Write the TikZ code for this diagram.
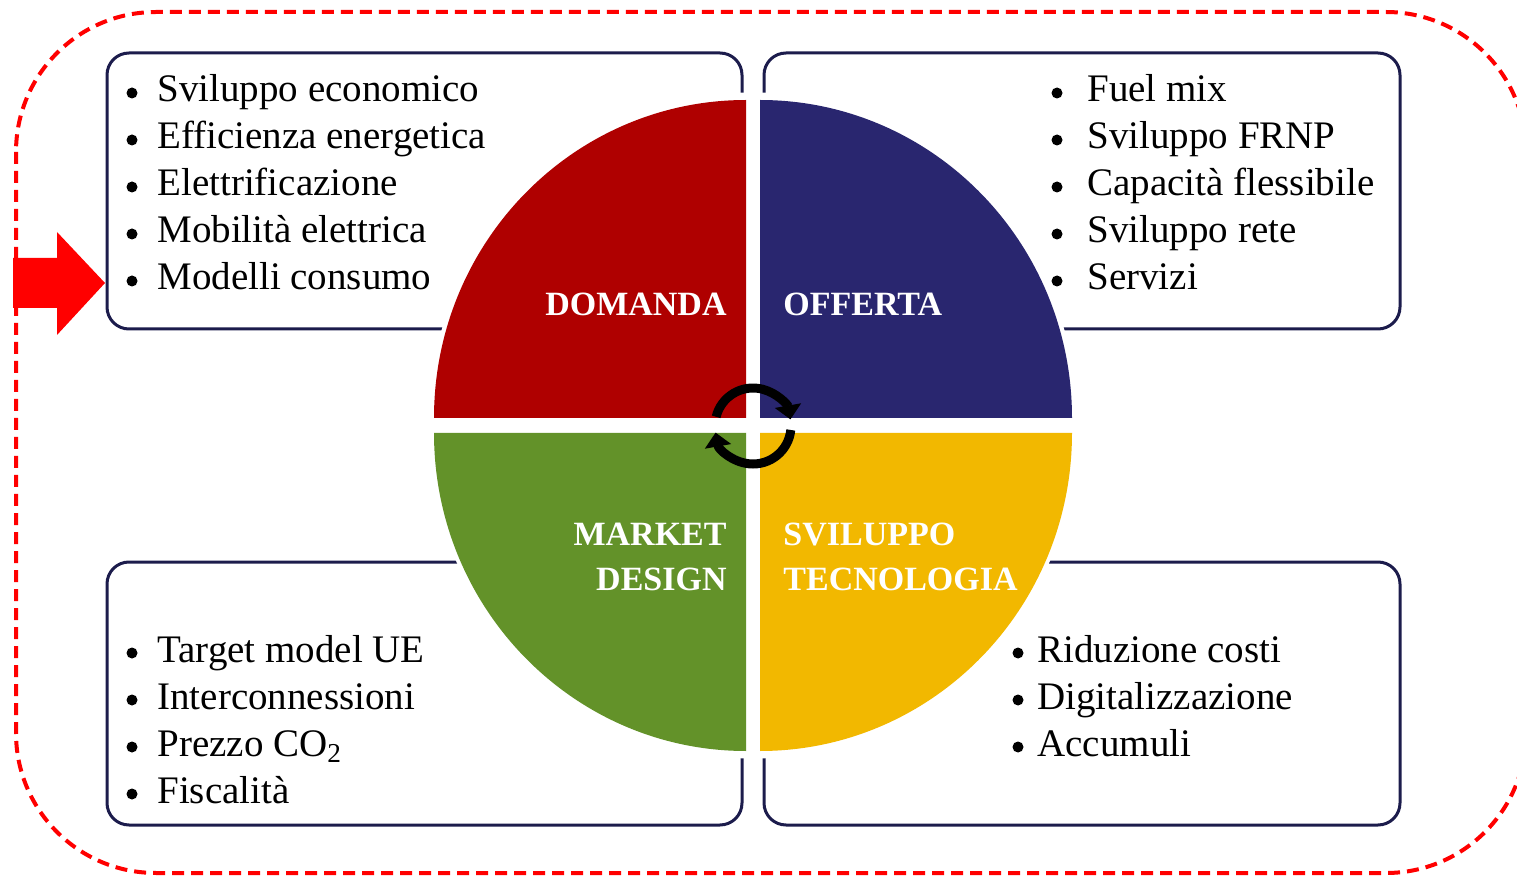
\documentclass[tikz,border=0pt]{standalone}
\usepackage{fontspec}
\setmainfont{Liberation Serif}
\usetikzlibrary{arrows.meta}
\definecolor{qred}{HTML}{AF0000}
\definecolor{qblue}{HTML}{29266F}
\definecolor{qgreen}{HTML}{639229}
\definecolor{qyellow}{HTML}{F2B800}
\definecolor{qnavy}{HTML}{1C1C4C}
\definecolor{qframe}{HTML}{FF0000}

\begin{document}
\begin{tikzpicture}[x=0.5pt,y=-0.5pt,
  listbox/.style={draw=qnavy,line width=1.5pt,rounded corners=11pt},
  item/.style={anchor=base west,inner sep=0pt,font=\fontsize{19.5}{22}\selectfont},
  quadlabel/.style={text=white,inner sep=0pt,font=\fontsize{17}{22.5}\selectfont\bfseries},
  turnarrow/.style={line width=4.5pt,-{Triangle[width=13pt,length=7pt]}}]
\useasboundingbox (0,0) rectangle (1517,877);
\clip (0,0) rectangle (1517,877);
% outer frame and entry arrow
\draw[qframe,line width=2pt,dash pattern=on 6pt off 3.5pt,rounded corners=70pt]
 (16,12) rectangle (1526,873);
\fill[qframe] (13,258) -- (57,258) -- (57,232) -- (105,283) -- (57,335)
 -- (57,308) -- (13,308) -- cycle;
% list boxes
\draw[listbox] (107,53) rectangle (742,329);
\draw[listbox] (764,53) rectangle (1400,329);
\draw[listbox] (107,562) rectangle (742,825);
\draw[listbox] (764,562) rectangle (1400,825);
% circle in four quarters
\fill[white] (753,425.5) ellipse (325 and 333);
\fill[qred] (746,418) -- (434,418) arc[start angle=180,end angle=270,x radius=312,y radius=318] -- cycle;
\fill[qblue] (760,418) -- (1072,418) arc[start angle=0,end angle=-90,x radius=312,y radius=318] -- cycle;
\fill[qgreen] (746,433) -- (434,433) arc[start angle=180,end angle=90,x radius=312,y radius=318] -- cycle;
\fill[qyellow] (760,433) -- (1072,433) arc[start angle=0,end angle=90,x radius=312,y radius=318] -- cycle;
\node[quadlabel,anchor=base east] (domanda) at (727,316) {DOMANDA};
\node[quadlabel,anchor=base west] (offerta) at (783,316) {OFFERTA};
\node[quadlabel,anchor=east,align=right] (market) at (727,557) {MARKET\\DESIGN};
\node[quadlabel,anchor=west,align=left] (tecno) at (783,557) {SVILUPPO\\TECNOLOGIA};
% feedback loop in the middle
\coordinate (loop) at (753,426);
\draw[turnarrow] (loop) ++(194:38) arc[start angle=194,end angle=350,radius=38];
\draw[turnarrow] (loop) ++(6:38) arc[start angle=6,end angle=170,radius=38];
% bullet lists
\foreach \t [count=\i] in {Sviluppo economico,Efficienza energetica,Elettrificazione,
 Mobilità elettrica,Modelli consumo} {
  \fill (132,46+47*\i) circle (5.5);
  \node[item] (dom\i) at (157,55+47*\i) {\t};
}
\foreach \t [count=\i] in {Fuel mix,Sviluppo FRNP,Capacità flessibile,Sviluppo rete,Servizi} {
  \fill (1057,46+47*\i) circle (5.5);
  \node[item] (off\i) at (1087,55+47*\i) {\t};
}
\foreach \t [count=\i] in {Target model UE,Interconnessioni,Prezzo CO\textsubscript{2},Fiscalità} {
  \fill (132,606+47*\i) circle (5.5);
  \node[item] (mkt\i) at (157,615+47*\i) {\t};
}
\foreach \t [count=\i] in {Riduzione costi,Digitalizzazione,Accumuli} {
  \fill (1018,606+47*\i) circle (5.5);
  \node[item] (tec\i) at (1037,615+47*\i) {\t};
}
\end{tikzpicture}
\end{document}
